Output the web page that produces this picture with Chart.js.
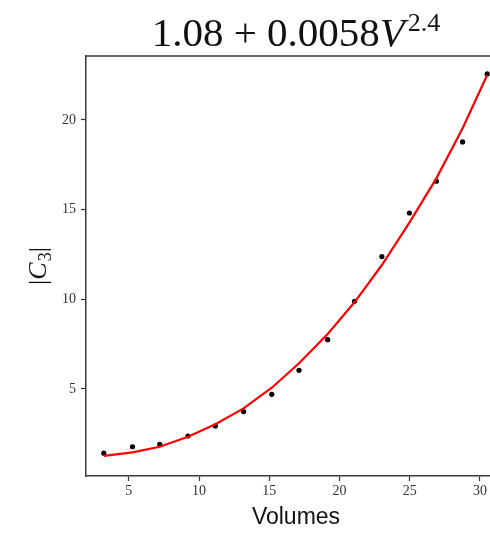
<!DOCTYPE html>
<html>
<head>
<meta charset="utf-8">
<script src="https://cdn.jsdelivr.net/npm/chart.js@4/dist/chart.umd.min.js"></script>
<style>
  html, body { margin: 0; padding: 0; background: #fff; overflow: hidden; }
  #wrap { width: 490px; height: 533px; overflow: hidden; position: relative; }
  canvas { display: block; }
</style>
</head>
<body>
<div id="wrap"><canvas id="c" width="510" height="533"></canvas></div>
<script>
// ---- data ----
const volumes    = [3.22, 5.26, 7.20, 9.21, 11.16, 13.17, 15.18, 17.12, 19.16, 21.07, 23.02, 24.98, 26.90, 28.77, 30.52];
const c3Observed = [1.42, 1.78, 1.92, 2.38, 2.94, 3.74, 4.70, 6.04, 7.75, 9.89, 12.38, 14.81, 16.58, 18.77, 22.56];
const c3Fit      = [1.27, 1.47, 1.78, 2.34, 3.03, 3.92, 5.07, 6.43, 8.07, 9.83, 11.91, 14.27, 16.74, 19.53, 22.50];
const xTicks = [5, 10, 15, 20, 25, 30];
const yTicks = [5, 10, 15, 20];
const titleParts = ["1.08 + 0.0058", "V", "2.4"];
const yLabelParts = ["|", "C", "3", "|"];
const xLabel = "Volumes";

const SERIF = "'Liberation Serif', 'DejaVu Serif', serif";
const SANS = "'Liberation Sans', 'DejaVu Sans', sans-serif";

const decorPlugin = {
  id: 'decor',
  afterDraw(chart) {
    const ctx = chart.ctx;
    const a = chart.chartArea;
    ctx.save();
    // top and right spines
    ctx.strokeStyle = '#3a3a3a';
    ctx.lineWidth = 1.5;
    ctx.beginPath();
    ctx.moveTo(a.left, a.top);
    ctx.lineTo(a.right, a.top);
    ctx.lineTo(a.right, a.bottom);
    ctx.stroke();

    // title with italic V and superscript
    const mainFont = "41px " + SERIF;
    const italFont = "italic 41px " + SERIF;
    const supFont = "26px " + SERIF;
    ctx.fillStyle = '#111';
    ctx.textBaseline = 'alphabetic';
    ctx.textAlign = 'left';
    ctx.font = mainFont; const w1 = ctx.measureText(titleParts[0]).width;
    ctx.font = italFont; const w2 = ctx.measureText(titleParts[1]).width;
    ctx.font = supFont; const w3 = ctx.measureText(titleParts[2]).width;
    const total = w1 + w2 + 3 + w3;
    const cx = (a.left + a.right) / 2;
    let x = cx - total / 2;
    const base = 46;
    ctx.font = mainFont; ctx.fillText(titleParts[0], x, base); x += w1;
    ctx.font = italFont; ctx.fillText(titleParts[1], x, base); x += w2 + 3;
    ctx.font = supFont; ctx.fillText(titleParts[2], x, base - 15);

    // y label |C_3| rotated
    const yf = "26px " + SERIF, yfi = "italic 26px " + SERIF, ys = "18px " + SERIF;
    ctx.font = yf; const b1 = ctx.measureText(yLabelParts[0]).width;
    ctx.font = yfi; const b2 = ctx.measureText(yLabelParts[1]).width;
    ctx.font = ys; const b3 = ctx.measureText(yLabelParts[2]).width;
    ctx.font = yf; const b4 = ctx.measureText(yLabelParts[3]).width;
    const tw = b1 + b2 + b3 + b4 + 1;
    ctx.translate(46, (a.top + a.bottom) / 2);
    ctx.rotate(-Math.PI / 2);
    let px = -tw / 2;
    ctx.font = yf; ctx.fillText(yLabelParts[0], px, 0); px += b1;
    ctx.font = yfi; ctx.fillText(yLabelParts[1], px, 0); px += b2 + 1;
    ctx.font = ys; ctx.fillText(yLabelParts[2], px, 5); px += b3;
    ctx.font = yf; ctx.fillText(yLabelParts[3], px, 0);
    ctx.restore();
  }
};

new Chart(document.getElementById('c'), {
  type: 'scatter',
  data: {
    datasets: [
      {
        type: 'line',
        label: 'fit',
        data: volumes.map((v, i) => ({ x: v, y: c3Fit[i] })),
        borderColor: '#ff0000',
        borderWidth: 2.2,
        pointRadius: 0,
        tension: 0,
        fill: false,
        order: 0
      },
      {
        label: 'observed',
        data: volumes.map((v, i) => ({ x: v, y: c3Observed[i] })),
        backgroundColor: '#000',
        borderColor: '#000',
        pointRadius: 2.6,
        pointBorderWidth: 0,
        order: 1
      }
    ]
  },
  options: {
    responsive: false,
    animation: false,
    devicePixelRatio: 1,
    layout: { padding: { left: 0, right: 3, top: 56, bottom: 0 } },
    plugins: { legend: { display: false }, tooltip: { enabled: false }, title: { display: false } },
    scales: {
      x: {
        type: 'linear',
        min: 1.95,
        max: 31.86,
        afterFit(s) { s.height = 57; },
        afterBuildTicks(s) { s.ticks = xTicks.map(v => ({ value: v })); },
        ticks: { font: { family: SERIF, size: 14 }, color: '#333', padding: 2, maxRotation: 0 },
        grid: { display: true, drawOnChartArea: false, drawTicks: true, tickLength: 5, tickColor: '#333', tickWidth: 1.2 },
        border: { display: true, color: '#3a3a3a', width: 1.5 },
        title: { display: true, text: xLabel, font: { family: SANS, size: 23 }, color: '#111', padding: { top: 0, bottom: 2 } }
      },
      y: {
        type: 'linear',
        min: 0.15,
        max: 23.56,
        afterFit(s) { s.width = 86; },
        afterBuildTicks(s) { s.ticks = yTicks.map(v => ({ value: v })); },
        ticks: { font: { family: SERIF, size: 14 }, color: '#333', padding: 5 },
        grid: { display: true, drawOnChartArea: false, drawTicks: true, tickLength: 5, tickColor: '#333', tickWidth: 1.2 },
        border: { display: true, color: '#3a3a3a', width: 1.5 }
      }
    }
  },
  plugins: [decorPlugin]
});
</script>
</body>
</html>
